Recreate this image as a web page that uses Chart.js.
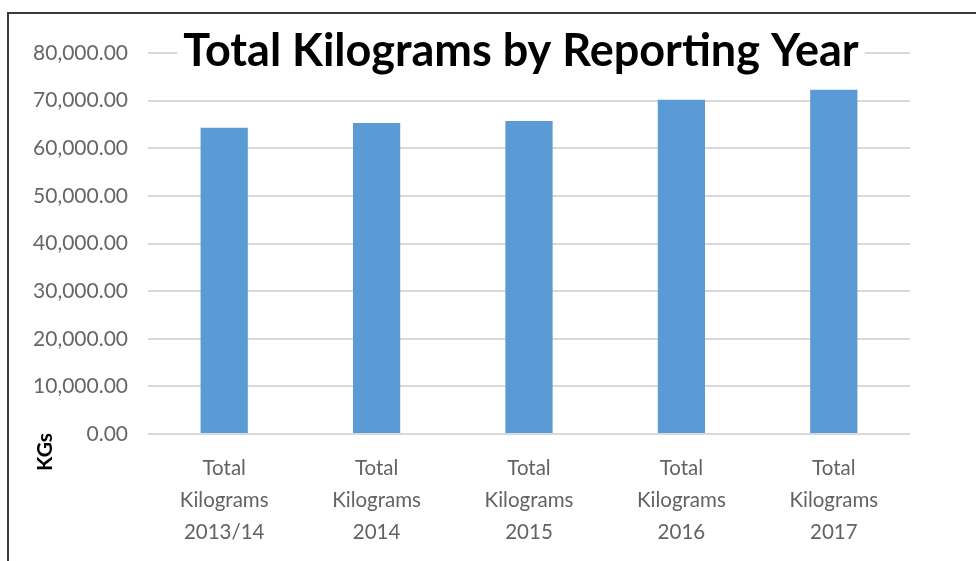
<!DOCTYPE html>
<html>
<head>
<meta charset="utf-8">
<script src="https://cdn.jsdelivr.net/npm/chart.js@4/dist/chart.umd.min.js"></script>
<style>
  html, body { margin: 0; padding: 0; background: #fff; }
  #wrap { position: relative; width: 976px; height: 561px; overflow: hidden; }
  #frame { position: absolute; left: 7px; top: 12px; width: 1000px; height: 600px;
           border-top: 2px solid #3a3a3a; border-left: 2px solid #3a3a3a; pointer-events: none; }
  canvas { position: absolute; left: 0; top: 0; }
</style>
</head>
<body>
<div id="wrap">
  <canvas id="kgChart" width="976" height="561"></canvas>
  <div id="frame"></div>
</div>
<script>
// ===============================
// DATA
// ===============================
const categories = [
    ["Total", "Kilograms", "2013/14"],
    ["Total", "Kilograms", "2014"],
    ["Total", "Kilograms", "2015"],
    ["Total", "Kilograms", "2016"],
    ["Total", "Kilograms", "2017"]
];
const kilograms = [64300, 65300, 65700, 70200, 72300];
const chartTitle = "Total Kilograms by Reporting Year";
const axisTitle = "KGs";

// ===============================
// TITLE + AXIS TITLE (drawn over the plot like the original)
// ===============================
const overlayText = {
    id: 'overlayText',
    afterDraw(chart) {
        const ctx = chart.ctx;
        ctx.save();

        // title sits on top of the 80,000 gridline
        ctx.font = "bold 45px Lato";
        const w = ctx.measureText(chartTitle).width;
        const cx = 521;
        ctx.fillStyle = "#ffffff";
        ctx.fillRect(cx - w / 2 - 6, 24, w + 12, 56);
        ctx.fillStyle = "#000000";
        ctx.textAlign = "center";
        ctx.textBaseline = "alphabetic";
        ctx.fillText(chartTitle, cx, 66);

        // rotated y axis title near the bottom
        ctx.translate(45, 452);
        ctx.rotate(-Math.PI / 2);
        ctx.font = "bold 21px Lato";
        ctx.textBaseline = "middle";
        ctx.fillText(axisTitle, 0, 0);

        ctx.restore();
    }
};

// ===============================
// CHART
// ===============================
const ctx = document.getElementById("kgChart").getContext("2d");

new Chart(ctx, {
    type: 'bar',
    data: {
        labels: categories,
        datasets: [{
            label: 'KGs',
            data: kilograms,
            backgroundColor: '#5b9bd5',
            borderWidth: 0,
            barPercentage: 0.62,
            categoryPercentage: 0.5
        }]
    },
    options: {
        responsive: false,
        animation: false,
        layout: {
            padding: { top: 53, right: 66, bottom: 0, left: 0 }
        },
        plugins: {
            legend: { display: false },
            title: { display: false },
            tooltip: { enabled: false }
        },
        scales: {
            x: {
                grid: { display: false },
                border: { display: false },
                ticks: {
                    color: '#636363',
                    font: { family: 'Lato', size: 20.5, lineHeight: 1.55 },
                    padding: 11,
                    maxRotation: 0,
                    autoSkip: false
                },
                afterFit(scale) { scale.height = 127; }
            },
            y: {
                min: 0,
                max: 80000,
                grid: { color: '#d9d9d9', lineWidth: 2, drawTicks: false },
                border: { display: false },
                ticks: {
                    stepSize: 10000,
                    color: '#666666',
                    font: { family: 'Lato', size: 21 },
                    padding: 20,
                    callback: function (value) {
                        return value.toLocaleString('en-US', { minimumFractionDigits: 2, maximumFractionDigits: 2 });
                    }
                },
                afterFit(scale) { scale.width = 148; }
            }
        }
    },
    plugins: [overlayText]
});
</script>
</body>
</html>
